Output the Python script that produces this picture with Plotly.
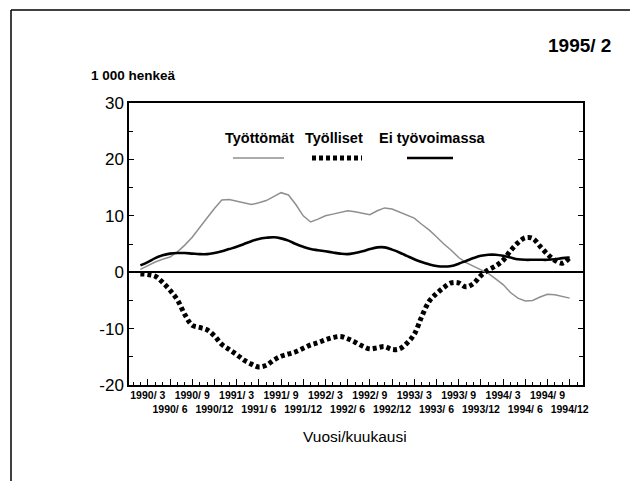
import plotly.graph_objects as go

# months: index 0 = 1990/1 ... 59 = 1994/12 ; data from 1990/2
months = list(range(1, 60))

tyottomat = [0.5, 1.2, 1.8, 2.3, 2.7, 3.6, 4.8, 6.2, 7.8, 9.6, 11.3, 12.8, 12.9, 12.6, 12.2,
             12.0, 12.3, 12.7, 13.4, 14.1, 13.7, 12.0, 10.0, 8.9, 9.4, 10.0, 10.3, 10.6, 10.9,
             10.7, 10.4, 10.2, 10.9, 11.4, 11.2, 10.7, 10.2, 9.6, 8.5, 7.5, 6.3, 5.0, 3.9, 2.6,
             1.7, 1.1, 0.4, -0.2, -1.2, -2.2, -3.6, -4.6, -5.1, -5.0, -4.4, -3.9, -4.0, -4.3, -4.6]

tyolliset = [-0.3, -0.4, -0.7, -1.8, -3.2, -4.9, -7.5, -9.4, -9.8, -10.2, -11.3, -12.8, -13.7,
             -14.6, -15.6, -16.3, -16.8, -16.5, -15.6, -14.9, -14.5, -14.1, -13.5, -12.9, -12.5,
             -12.0, -11.6, -11.4, -11.8, -12.4, -13.1, -13.6, -13.4, -13.2, -13.7, -13.6, -12.6,
             -11.0, -7.9, -5.2, -3.8, -2.7, -1.9, -1.9, -2.6, -2.0, -0.6, 0.4, 1.1, 2.1, 3.8,
             5.2, 6.1, 6.0, 4.6, 3.2, 2.1, 1.6, 2.6]

ei_tyovoimassa = [1.2, 1.8, 2.5, 3.0, 3.3, 3.4, 3.4, 3.3, 3.2, 3.2, 3.4, 3.7, 4.1, 4.5, 5.0,
                  5.5, 5.9, 6.1, 6.2, 6.0, 5.6, 5.0, 4.5, 4.1, 3.9, 3.7, 3.5, 3.3, 3.2, 3.4,
                  3.7, 4.1, 4.4, 4.4, 4.0, 3.5, 2.9, 2.3, 1.8, 1.4, 1.1, 1.0, 1.1, 1.5, 2.0,
                  2.5, 2.9, 3.1, 3.1, 2.9, 2.6, 2.3, 2.2, 2.2, 2.2, 2.2, 2.3, 2.5, 2.6]

tick_positions = list(range(2, 60, 3))
tick_labels = ["1990/ 3", "1990/ 6", "1990/ 9", "1990/12",
               "1991/ 3", "1991/ 6", "1991/ 9", "1991/12",
               "1992/ 3", "1992/ 6", "1992/ 9", "1992/12",
               "1993/ 3", "1993/ 6", "1993/ 9", "1993/12",
               "1994/ 3", "1994/ 6", "1994/ 9", "1994/12"]
tick_text = ["<b>" + t + "</b>" if i % 2 == 0 else "<br><b>" + t + "</b>" for i, t in enumerate(tick_labels)]

y_tick_values = [-20, -10, 0, 10, 20, 30]
y_tick_labels = ["-20", "-10", "0", "10", "20", "30"]

legend_names = ["Työttömät", "Työlliset", "Ei työvoimassa"]

FONT = "Liberation Sans"
OFF = 8  # page body margin

DOT = dict(color="black", width=5, dash="4px,3px")

fig = go.Figure()
fig.add_trace(go.Scatter(x=months, y=tyottomat, mode="lines", name=legend_names[0],
                         line=dict(color="#8f8f8f", width=1.5)))
fig.add_trace(go.Scatter(x=months, y=ei_tyovoimassa, mode="lines", name=legend_names[2],
                         line=dict(color="black", width=2.6, shape="spline")))
fig.add_trace(go.Scatter(x=months, y=tyolliset, mode="lines", name=legend_names[1],
                         line=dict(DOT, shape="spline")))

L, R, T, B = 129, 583, 103, 385  # plot area in reference page pixels

fig.update_layout(
    width=638 - OFF, height=481 - OFF,
    margin=dict(l=L - OFF, r=638 - R, t=T - OFF, b=481 - B),
    paper_bgcolor="white", plot_bgcolor="white",
    showlegend=False,
    font=dict(family=FONT, color="black"),
    xaxis=dict(range=[-0.54, 60.8], tickvals=tick_positions, ticktext=tick_text,
               ticks="inside", ticklen=6, tickwidth=1, tickcolor="black",
               minor=dict(dtick=1, tick0=0, ticks="inside", ticklen=3, tickcolor="black"),
               showgrid=False, zeroline=False, showline=True, linecolor="black",
               linewidth=1.5, mirror=True, automargin=False,
               tickfont=dict(family=FONT, size=10.5, color="black"), tickangle=0),
    yaxis=dict(range=[-20, 30], tickvals=y_tick_values, ticktext=y_tick_labels,
               ticks="inside", ticklen=5, tickwidth=1, tickcolor="black",
               minor=dict(dtick=5, ticks="inside", ticklen=4, tickcolor="black"),
               showgrid=False, zeroline=True, zerolinecolor="black", zerolinewidth=1.5,
               showline=True, linecolor="black", linewidth=1.5, mirror="ticks",
               automargin=False,
               tickfont=dict(family=FONT, size=17, color="black")),
)

def px(x):
    return (x - L) / (R - L)
def py(y):
    return (B - y) / (B - T)

annotations = [
    dict(text="<b>1995/ 2</b>", x=613, y=46, xanchor="right", yanchor="middle",
         font=dict(size=19)),
    dict(text="<b>1 000 henkeä</b>", x=89, y=75, xanchor="left", yanchor="middle",
         font=dict(size=13.5)),
    dict(text="Vuosi/kuukausi", x=355, y=436, xanchor="center", yanchor="middle",
         font=dict(size=15.5)),
    dict(text="<b>" + legend_names[0] + "</b>", x=259, y=138, xanchor="center", yanchor="middle",
         font=dict(size=14.5)),
    dict(text="<b>" + legend_names[1] + "</b>", x=334, y=138, xanchor="center", yanchor="middle",
         font=dict(size=14.5)),
    dict(text="<b>" + legend_names[2] + "</b>", x=432, y=138, xanchor="center", yanchor="middle",
         font=dict(size=14.5)),
]
for a in annotations:
    a["x"] = px(a["x"])
    a["y"] = py(a["y"])
    a["xref"] = "paper"
    a["yref"] = "paper"
    a["showarrow"] = False
fig.update_layout(annotations=annotations)

shapes = [
    # page frame
    dict(type="line", x0=px(11), x1=px(645), y0=py(10), y1=py(10), line=dict(color="black", width=1.5)),
    dict(type="line", x0=px(11), x1=px(11), y0=py(10), y1=py(490), line=dict(color="black", width=1.5)),
    # legend samples
    dict(type="line", x0=px(233), x1=px(284), y0=py(158), y1=py(158), line=dict(color="#8f8f8f", width=1.5)),
    dict(type="line", x0=px(312), x1=px(362), y0=py(158), y1=py(158), line=DOT),
    dict(type="line", x0=px(407), x1=px(453), y0=py(158), y1=py(158), line=dict(color="black", width=2.6)),
]
for s in shapes:
    s["xref"] = "paper"
    s["yref"] = "paper"
fig.update_layout(shapes=shapes)

fig.write_html("out.html")
